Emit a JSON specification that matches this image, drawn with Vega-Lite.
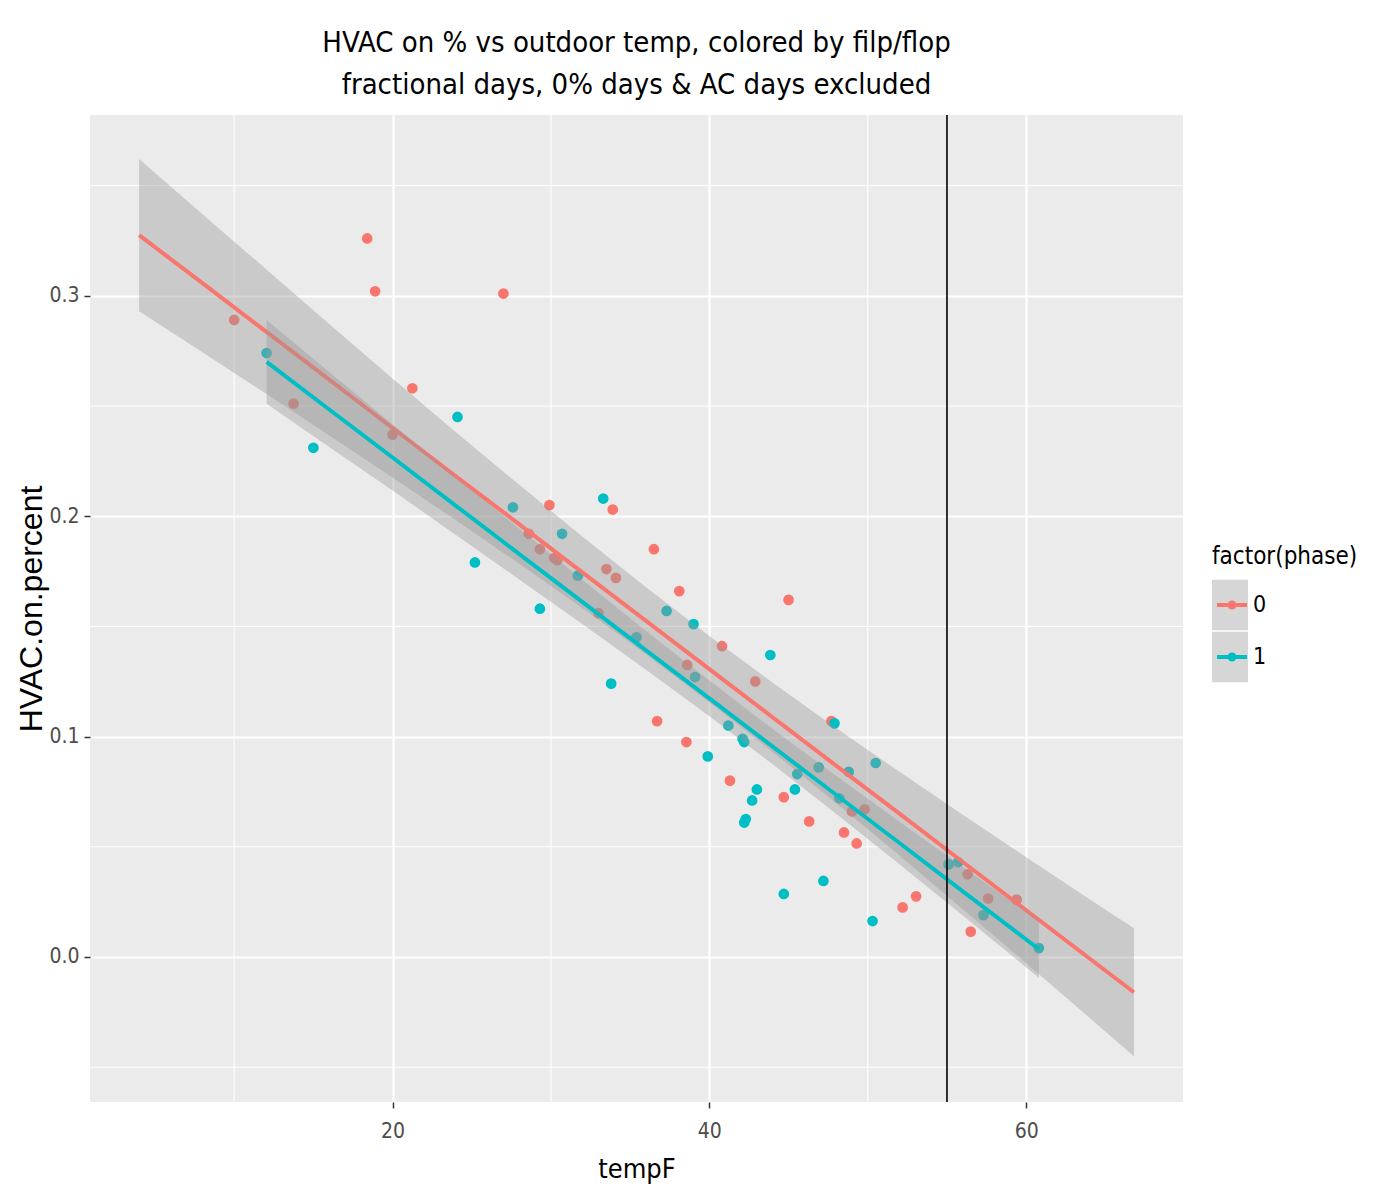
{
  "$schema": "https://vega.github.io/schema/vega-lite/v6.json",
  "autosize": {"type": "none"},
  "width": 1093,
  "height": 987,
  "padding": {"left": 90, "top": 115, "right": 191, "bottom": 92},
  "background": "white",
  "view": {"fill": "#EBEBEB", "stroke": null},
  "title": {
    "text": ["HVAC on % vs outdoor temp, colored by filp/flop", " fractional days, 0% days & AC days excluded"],
    "font": "DejaVu Sans Condensed, Liberation Sans Narrow, sans-serif",
    "fontSize": 29,
    "fontWeight": "normal",
    "color": "#000000",
    "lineHeight": 42,
    "anchor": "middle",
    "frame": "group",
    "offset": 14
  },
  "config": {
    "axis": {
      "labelFont": "DejaVu Sans Condensed, Liberation Sans Narrow, sans-serif",
      "labelFontSize": 21,
      "labelColor": "#4D4D4D",
      "titleFont": "DejaVu Sans Condensed, Liberation Sans Narrow, sans-serif",
      "titleFontWeight": "normal",
      "titleColor": "#000000",
      "domain": false,
      "tickColor": "#333333",
      "tickSize": 6,
      "tickWidth": 1.5,
      "gridColor": "#FFFFFF",
      "gridWidth": 2.2
    }
  },
  "datasets": {
    "pts": [
      {"tempF": 10.0, "pct": 0.289, "phase": "0"},
      {"tempF": 18.4, "pct": 0.326, "phase": "0"},
      {"tempF": 18.9, "pct": 0.302, "phase": "0"},
      {"tempF": 13.75, "pct": 0.251, "phase": "0"},
      {"tempF": 21.25, "pct": 0.258, "phase": "0"},
      {"tempF": 20.0, "pct": 0.237, "phase": "0"},
      {"tempF": 27.0, "pct": 0.301, "phase": "0"},
      {"tempF": 29.9, "pct": 0.205, "phase": "0"},
      {"tempF": 33.9, "pct": 0.203, "phase": "0"},
      {"tempF": 28.6, "pct": 0.192, "phase": "0"},
      {"tempF": 29.3, "pct": 0.185, "phase": "0"},
      {"tempF": 30.2, "pct": 0.181, "phase": "0"},
      {"tempF": 30.4, "pct": 0.180, "phase": "0"},
      {"tempF": 36.5, "pct": 0.185, "phase": "0"},
      {"tempF": 33.5, "pct": 0.176, "phase": "0"},
      {"tempF": 34.1, "pct": 0.172, "phase": "0"},
      {"tempF": 33.0, "pct": 0.156, "phase": "0"},
      {"tempF": 38.1, "pct": 0.166, "phase": "0"},
      {"tempF": 45.0, "pct": 0.162, "phase": "0"},
      {"tempF": 36.7, "pct": 0.107, "phase": "0"},
      {"tempF": 38.55, "pct": 0.0975, "phase": "0"},
      {"tempF": 38.6, "pct": 0.1325, "phase": "0"},
      {"tempF": 40.8, "pct": 0.141, "phase": "0"},
      {"tempF": 42.9, "pct": 0.125, "phase": "0"},
      {"tempF": 41.3, "pct": 0.080, "phase": "0"},
      {"tempF": 44.7, "pct": 0.0725, "phase": "0"},
      {"tempF": 46.3, "pct": 0.0615, "phase": "0"},
      {"tempF": 47.7, "pct": 0.107, "phase": "0"},
      {"tempF": 48.5, "pct": 0.0565, "phase": "0"},
      {"tempF": 49.3, "pct": 0.0515, "phase": "0"},
      {"tempF": 49.0, "pct": 0.066, "phase": "0"},
      {"tempF": 49.8, "pct": 0.067, "phase": "0"},
      {"tempF": 52.2, "pct": 0.0225, "phase": "0"},
      {"tempF": 53.05, "pct": 0.0275, "phase": "0"},
      {"tempF": 56.3, "pct": 0.0375, "phase": "0"},
      {"tempF": 57.6, "pct": 0.0265, "phase": "0"},
      {"tempF": 59.4, "pct": 0.026, "phase": "0"},
      {"tempF": 56.5, "pct": 0.0115, "phase": "0"},
      {"tempF": 12.05, "pct": 0.274, "phase": "1"},
      {"tempF": 15.0, "pct": 0.231, "phase": "1"},
      {"tempF": 24.1, "pct": 0.245, "phase": "1"},
      {"tempF": 25.2, "pct": 0.179, "phase": "1"},
      {"tempF": 27.6, "pct": 0.204, "phase": "1"},
      {"tempF": 30.7, "pct": 0.192, "phase": "1"},
      {"tempF": 31.7, "pct": 0.173, "phase": "1"},
      {"tempF": 29.3, "pct": 0.158, "phase": "1"},
      {"tempF": 33.3, "pct": 0.208, "phase": "1"},
      {"tempF": 35.4, "pct": 0.145, "phase": "1"},
      {"tempF": 37.3, "pct": 0.157, "phase": "1"},
      {"tempF": 39.0, "pct": 0.151, "phase": "1"},
      {"tempF": 39.1, "pct": 0.127, "phase": "1"},
      {"tempF": 33.8, "pct": 0.124, "phase": "1"},
      {"tempF": 43.85, "pct": 0.137, "phase": "1"},
      {"tempF": 41.2, "pct": 0.105, "phase": "1"},
      {"tempF": 42.1, "pct": 0.099, "phase": "1"},
      {"tempF": 42.2, "pct": 0.0975, "phase": "1"},
      {"tempF": 39.9, "pct": 0.091, "phase": "1"},
      {"tempF": 47.9, "pct": 0.106, "phase": "1"},
      {"tempF": 45.55, "pct": 0.083, "phase": "1"},
      {"tempF": 46.9, "pct": 0.086, "phase": "1"},
      {"tempF": 48.8, "pct": 0.084, "phase": "1"},
      {"tempF": 50.5, "pct": 0.088, "phase": "1"},
      {"tempF": 48.2, "pct": 0.072, "phase": "1"},
      {"tempF": 43.0, "pct": 0.076, "phase": "1"},
      {"tempF": 42.7, "pct": 0.071, "phase": "1"},
      {"tempF": 42.3, "pct": 0.0626, "phase": "1"},
      {"tempF": 42.2, "pct": 0.061, "phase": "1"},
      {"tempF": 45.4, "pct": 0.076, "phase": "1"},
      {"tempF": 44.7, "pct": 0.0286, "phase": "1"},
      {"tempF": 47.2, "pct": 0.0345, "phase": "1"},
      {"tempF": 50.3, "pct": 0.0163, "phase": "1"},
      {"tempF": 55.1, "pct": 0.042, "phase": "1"},
      {"tempF": 55.7, "pct": 0.043, "phase": "1"},
      {"tempF": 57.3, "pct": 0.019, "phase": "1"},
      {"tempF": 60.8, "pct": 0.004, "phase": "1"}
    ],
    "fit": [
      {"tempF": 4.0, "fit": 0.3275, "lo": 0.2930, "hi": 0.3620, "phase": "0", "key": "0"},
      {"tempF": 8.0, "fit": 0.3057, "lo": 0.2744, "hi": 0.3370, "phase": "0", "key": "0"},
      {"tempF": 12.0, "fit": 0.2838, "lo": 0.2556, "hi": 0.3121, "phase": "0", "key": "0"},
      {"tempF": 16.0, "fit": 0.2619, "lo": 0.2366, "hi": 0.2872, "phase": "0", "key": "0"},
      {"tempF": 20.0, "fit": 0.2400, "lo": 0.2175, "hi": 0.2625, "phase": "0", "key": "0"},
      {"tempF": 24.0, "fit": 0.2181, "lo": 0.1981, "hi": 0.2381, "phase": "0", "key": "0"},
      {"tempF": 28.0, "fit": 0.1963, "lo": 0.1784, "hi": 0.2142, "phase": "0", "key": "0"},
      {"tempF": 32.0, "fit": 0.1744, "lo": 0.1582, "hi": 0.1906, "phase": "0", "key": "0"},
      {"tempF": 36.0, "fit": 0.1525, "lo": 0.1373, "hi": 0.1677, "phase": "0", "key": "0"},
      {"tempF": 40.0, "fit": 0.1306, "lo": 0.1156, "hi": 0.1456, "phase": "0", "key": "0"},
      {"tempF": 44.0, "fit": 0.1087, "lo": 0.0930, "hi": 0.1244, "phase": "0", "key": "0"},
      {"tempF": 48.0, "fit": 0.0868, "lo": 0.0698, "hi": 0.1039, "phase": "0", "key": "0"},
      {"tempF": 52.0, "fit": 0.0650, "lo": 0.0460, "hi": 0.0840, "phase": "0", "key": "0"},
      {"tempF": 56.0, "fit": 0.0431, "lo": 0.0217, "hi": 0.0645, "phase": "0", "key": "0"},
      {"tempF": 60.0, "fit": 0.0212, "lo": -0.0028, "hi": 0.0452, "phase": "0", "key": "0"},
      {"tempF": 64.0, "fit": -0.0007, "lo": -0.0276, "hi": 0.0262, "phase": "0", "key": "0"},
      {"tempF": 66.8, "fit": -0.0160, "lo": -0.0450, "hi": 0.0130, "phase": "0", "key": "0"},
      {"tempF": 12.05, "fit": 0.2700, "lo": 0.2510, "hi": 0.2890, "phase": "1", "key": "1"},
      {"tempF": 16.0, "fit": 0.2484, "lo": 0.2314, "hi": 0.2654, "phase": "1", "key": "1"},
      {"tempF": 20.0, "fit": 0.2266, "lo": 0.2116, "hi": 0.2417, "phase": "1", "key": "1"},
      {"tempF": 24.0, "fit": 0.2047, "lo": 0.1915, "hi": 0.2179, "phase": "1", "key": "1"},
      {"tempF": 28.0, "fit": 0.1828, "lo": 0.1713, "hi": 0.1943, "phase": "1", "key": "1"},
      {"tempF": 32.0, "fit": 0.1610, "lo": 0.1510, "hi": 0.1710, "phase": "1", "key": "1"},
      {"tempF": 36.0, "fit": 0.1391, "lo": 0.1303, "hi": 0.1479, "phase": "1", "key": "1"},
      {"tempF": 40.0, "fit": 0.1173, "lo": 0.1092, "hi": 0.1254, "phase": "1", "key": "1"},
      {"tempF": 44.0, "fit": 0.0954, "lo": 0.0874, "hi": 0.1034, "phase": "1", "key": "1"},
      {"tempF": 48.0, "fit": 0.0736, "lo": 0.0650, "hi": 0.0822, "phase": "1", "key": "1"},
      {"tempF": 52.0, "fit": 0.0517, "lo": 0.0421, "hi": 0.0613, "phase": "1", "key": "1"},
      {"tempF": 56.0, "fit": 0.0298, "lo": 0.0188, "hi": 0.0408, "phase": "1", "key": "1"},
      {"tempF": 60.8, "fit": 0.0036, "lo": -0.0094, "hi": 0.0166, "phase": "1", "key": "1"}
    ],
    "minorx": [{"tempF": 10}, {"tempF": 30}, {"tempF": 50}],
    "minory": [{"pct": -0.05}, {"pct": 0.05}, {"pct": 0.15}, {"pct": 0.25}, {"pct": 0.35}],
    "vline": [{"tempF": 55}]
  },
  "layer": [
    {
      "data": {"name": "minorx"},
      "mark": {"type": "rule", "color": "#FFFFFF", "strokeWidth": 1.1},
      "encoding": {
        "x": {"field": "tempF", "type": "quantitative", "scale": {"domain": [0.9, 69.9], "nice": false, "zero": false},
              "axis": {"title": "tempF", "values": [20, 40, 60], "titleFontSize": 27, "labelPadding": 12, "titlePadding": 15}}
      }
    },
    {
      "data": {"name": "minory"},
      "mark": {"type": "rule", "color": "#FFFFFF", "strokeWidth": 1.1},
      "encoding": {
        "y": {"field": "pct", "type": "quantitative", "scale": {"domain": [-0.0658, 0.382], "nice": false, "zero": false},
              "axis": {"title": "HVAC.on.percent", "values": [0, 0.1, 0.2, 0.3], "format": ".1f", "titleFont": "Liberation Sans, Arial, sans-serif", "titleFontSize": 32, "labelPadding": 5, "titlePadding": 0}}
      }
    },
    {
      "data": {"name": "pts"},
      "mark": {"type": "point", "filled": true, "opacity": 1, "size": 115},
      "encoding": {
        "x": {"field": "tempF", "type": "quantitative"},
        "y": {"field": "pct", "type": "quantitative"},
        "color": {
          "field": "phase", "type": "nominal",
          "scale": {"domain": ["0", "1"], "range": ["#F8766D", "#00BFC4"]},
          "legend": {
            "orient": "none", "legendX": 1122, "legendY": 430, "zindex": 2,
            "title": "factor(phase)",
            "titleFont": "DejaVu Sans Condensed, Liberation Sans Narrow, sans-serif",
            "titleFontSize": 24, "titleFontWeight": "normal", "titleColor": "#000000", "titlePadding": 10,
            "labelFont": "DejaVu Sans Condensed, Liberation Sans Narrow, sans-serif",
            "labelFontSize": 23, "labelColor": "#000000", "labelOffset": 4,
            "symbolType": "M-1,0L1,0M-0.17,0A0.17,0.17 0 1,0 0.17,0A0.17,0.17 0 1,0 -0.17,0",
            "symbolSize": 900, "symbolStrokeWidth": 4, "symbolOpacity": 1, "symbolOffset": 3,
            "clipHeight": 52, "rowPadding": 0,
            "encode": {
              "symbols": {"update": {"stroke": {"scale": "color", "field": "value"}, "fill": {"scale": "color", "field": "value"}}}
            }
          }
        }
      }
    },
    {
      "data": {"name": "fit"},
      "transform": [{"filter": "datum.phase == '0'"}],
      "mark": {"type": "area", "opacity": 0.4},
      "encoding": {
        "x": {"field": "tempF", "type": "quantitative"},
        "y": {"field": "lo", "type": "quantitative"},
        "y2": {"field": "hi"},
        "fill": {
          "field": "key", "type": "nominal",
          "scale": {"range": ["#999999", "#999999"]},
          "legend": {
            "orient": "none", "legendX": 1122, "legendY": 430, "zindex": 1,
            "title": "factor(phase)",
            "titleFont": "DejaVu Sans Condensed, Liberation Sans Narrow, sans-serif",
            "titleFontSize": 24, "titleFontWeight": "normal", "titleColor": "transparent", "titlePadding": 10,
            "labelFont": "DejaVu Sans Condensed, Liberation Sans Narrow, sans-serif",
            "labelFontSize": 23, "labelColor": "transparent", "labelOffset": 4,
            "symbolType": "M-1,-1.4H1V1.4H-1Z",
            "symbolSize": 1296, "symbolStrokeWidth": 0, "symbolOpacity": 0.5, "symbolStrokeColor": "transparent",
            "clipHeight": 52, "rowPadding": 0
          }
        }
      }
    },
    {
      "data": {"name": "fit"},
      "transform": [{"filter": "datum.phase == '0'"}],
      "mark": {"type": "line", "strokeWidth": 4},
      "encoding": {
        "x": {"field": "tempF", "type": "quantitative"},
        "y": {"field": "fit", "type": "quantitative"},
        "color": {"field": "phase", "type": "nominal"}
      }
    },
    {
      "data": {"name": "fit"},
      "transform": [{"filter": "datum.phase == '1'"}],
      "mark": {"type": "area", "opacity": 0.4},
      "encoding": {
        "x": {"field": "tempF", "type": "quantitative"},
        "y": {"field": "lo", "type": "quantitative"},
        "y2": {"field": "hi"},
        "fill": {"field": "key", "type": "nominal"}
      }
    },
    {
      "data": {"name": "fit"},
      "transform": [{"filter": "datum.phase == '1'"}],
      "mark": {"type": "line", "strokeWidth": 4},
      "encoding": {
        "x": {"field": "tempF", "type": "quantitative"},
        "y": {"field": "fit", "type": "quantitative"},
        "color": {"field": "phase", "type": "nominal"}
      }
    },
    {
      "data": {"name": "vline"},
      "mark": {"type": "rule", "color": "#000000", "strokeWidth": 1.6},
      "encoding": {
        "x": {"field": "tempF", "type": "quantitative"}
      }
    }
  ]
}
